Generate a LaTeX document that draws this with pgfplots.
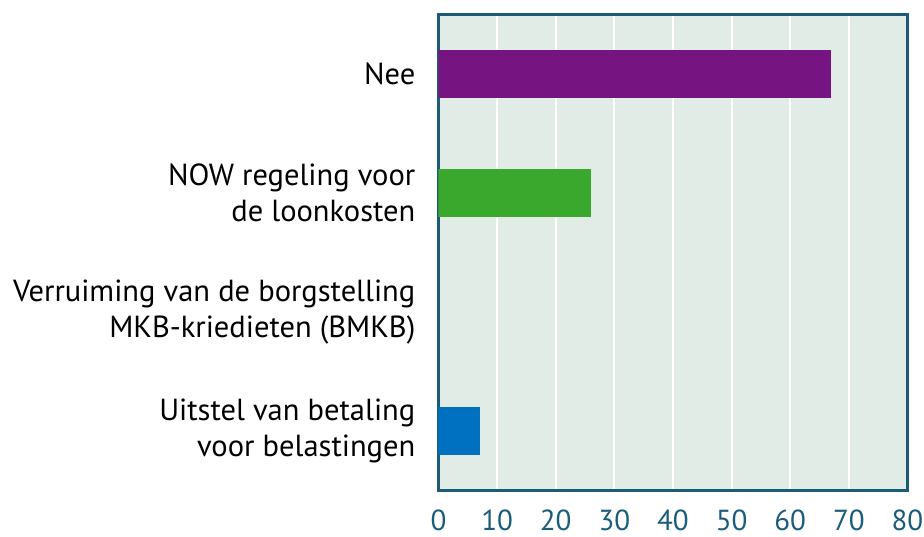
\documentclass[border=0pt]{standalone}
\usepackage{pgfplots}
\pgfplotsset{compat=1.18}
\usepackage{fontspec}
\setmainfont{PT Sans}
\definecolor{bgcol}{HTML}{E2ECE6}
\definecolor{framecol}{HTML}{1B5B76}
\definecolor{ticktxt}{HTML}{1A5C7A}
\definecolor{cpurple}{HTML}{761482}
\definecolor{cgreen}{HTML}{3AA82C}
\definecolor{cblue}{HTML}{0070C0}
\pgfplotsset{layers/mylayers/.define layer set={axis background,axis grid,axis ticks,main,axis lines,axis tick labels,axis descriptions,axis foreground}{}}
\begin{document}
\begin{tikzpicture}
\begin{axis}[
  name=ax,
  set layers=mylayers,
  scale only axis,
  width=469pt, height=476pt,
  xbar, bar width=48pt,
  xmin=0, xmax=80,
  ymin=-0.5, ymax=3.5,
  y dir=reverse,
  xtick={0,10,...,80},
  ytick={0,1,2,3},
  yticklabels={Nee, {NOW regeling voor\\de loonkosten}, {Verruiming van de borgstelling\hspace{7pt}\\MKB-kriedieten (BMKB)}, {Uitstel van betaling\\voor belastingen}},
  yticklabel style={align=right, inner sep=0pt, xshift=-23pt, font=\fontsize{30.5}{36}\selectfont, text=black},
  xticklabel style={inner sep=0pt, yshift=-19pt, font=\fontsize{29}{35}\selectfont, text=ticktxt},
  /pgf/number format/assume math mode=true,
  major tick length=0pt,
  xmajorgrids,
  grid style={white, line width=2.2pt},
  axis line style={framecol, line width=2.8pt},
  axis background/.style={fill=bgcol},
]
\addplot[xbar, bar shift=0pt, fill=cpurple, draw=none] coordinates {(67,0)};
\addplot[xbar, bar shift=0pt, fill=cgreen, draw=none] coordinates {(26,1)};
\addplot[xbar, bar shift=0pt, fill=none, draw=none] coordinates {(0,2)};
\addplot[xbar, bar shift=0pt, fill=cblue, draw=none] coordinates {(7,3)};
\end{axis}
\pgfresetboundingbox
\path (ax.south west) ++(-438.5pt,-46.3pt) rectangle ++(924pt,537pt);
\end{tikzpicture}
\end{document}
